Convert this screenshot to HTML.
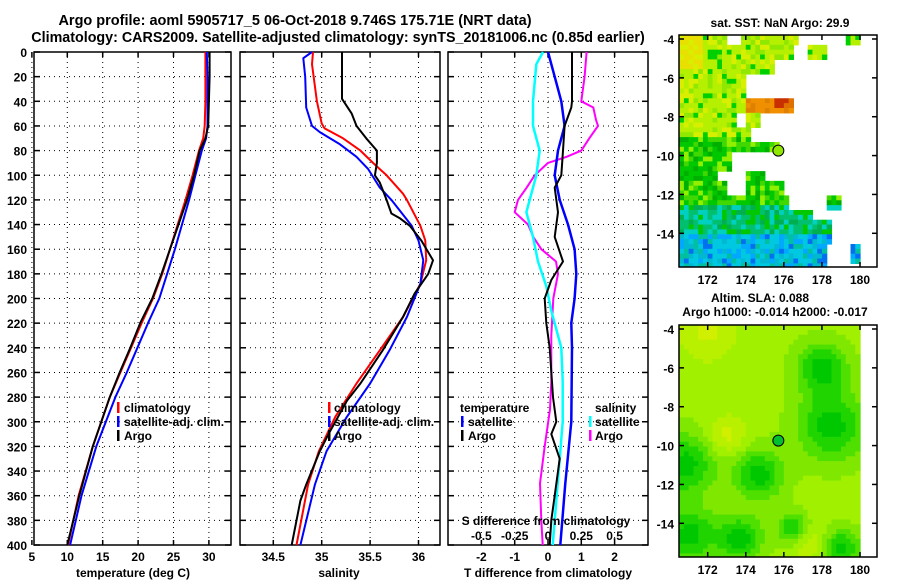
<!DOCTYPE html>
<html><head><meta charset="utf-8">
<style>
html,body{margin:0;padding:0;background:#fff;}
svg{display:block;}
text{font-family:"Liberation Sans",Arial,sans-serif;font-weight:bold;fill:#000;}
</style></head>
<body>
<svg id="fig" width="900" height="580" viewBox="0 0 900 580" xmlns="http://www.w3.org/2000/svg">
<text x="295" y="25" font-size="14.5" text-anchor="middle">Argo profile: aoml 5905717_5 06-Oct-2018 9.746S 175.71E (NRT data)</text>
<text x="338" y="42" font-size="14.3" text-anchor="middle">Climatology: CARS2009. Satellite-adjusted climatology: synTS_20181006.nc (0.85d earlier)</text>
<text x="780" y="27" font-size="12" text-anchor="middle">sat. SST: NaN Argo: 29.9</text>
<text x="760" y="302" font-size="12" text-anchor="middle">Altim. SLA: 0.088</text>
<text x="775" y="316" font-size="12" text-anchor="middle">Argo h1000: -0.014 h2000: -0.017</text>
<text x="894" y="455" font-size="12" text-anchor="middle" transform="rotate(-90 894 455)" style="font-weight:normal">©IMOS 20-Dec-2018 04:39:12</text>
<g id="layer"></g>
</svg>
<script>
// ---------- data ----------
const depthTicks = [0,20,40,60,80,100,120,140,160,180,200,220,240,260,280,300,320,340,360,380,400];
const tempTicks = [5,10,15,20,25,30];
const salTicks = [34.5,35,35.5,36];
const salTickLabels = ["34.5","35","35.5","36"];
const tdiffTicks = [-2,-1,0,1,2];
const sdiffTicks = [-0.5,-0.25,0,0.25,0.5];
const sdiffTickLabels = ["-0.5","-0.25","0","0.25","0.5"];

const tempDepth = [0,20,40,60,70,80,100,120,140,160,180,200,220,240,260,280,320,360,400];
const tempArgo = [30.1,30.1,30.0,29.9,29.5,28.7,27.9,26.9,25.7,24.5,23.3,22.0,20.3,18.9,17.4,16.0,13.6,11.7,10.0];
const tempClim = [29.5,29.5,29.5,29.4,29.2,28.6,27.7,26.7,25.6,24.5,23.4,22.1,20.5,19.0,17.5,16.0,13.6,11.6,10.1];
const tempSat  = [29.7,29.8,29.8,29.8,29.6,29.0,28.1,27.2,26.2,25.2,24.1,23.0,21.4,19.9,18.4,16.8,14.1,12.0,10.4];

const salArgoDepth = [0,38,50,60,70,80,90,100,106,120,131,135,141,153,169,180,196,215,242,269,283,310,324,351,364,400];
const salArgo = [35.21,35.21,35.31,35.36,35.46,35.57,35.57,35.55,35.60,35.67,35.72,35.81,35.91,36.03,36.15,36.10,35.96,35.84,35.63,35.40,35.26,35.07,34.98,34.84,34.78,34.69];
const salClimDepth = [0,10,40,58,62,70,80,90,100,115,120,141,153,169,188,215,242,269,296,324,351,400];
const salClim = [34.91,34.90,34.95,35.00,35.03,35.22,35.40,35.53,35.67,35.84,35.88,36.02,36.07,36.08,36.02,35.84,35.60,35.36,35.14,34.97,34.86,34.74];
const salSatDepth = [0,5,20,45,60,65,75,85,95,110,120,141,153,169,188,215,242,269,296,324,351,400];
const salSat = [34.90,34.81,34.83,34.84,34.90,34.98,35.19,35.36,35.48,35.60,35.72,35.93,36.00,36.05,36.02,35.88,35.70,35.50,35.26,35.05,34.93,34.78];

const tdArgoDepth = [0,40,45,60,80,100,110,130,150,170,185,200,220,240,280,300,310,330,360,380,400];
const tdArgo = [0.72,0.72,0.7,0.5,0.45,0.4,0.2,0.3,0.2,0.45,0.1,-0.1,-0.05,0.05,0.15,0.25,0.1,0.35,0.2,0.1,0.05];
const tdSatDepth = [0,20,40,60,80,100,120,140,160,180,200,220,240,300,350,400];
const tdSat = [0,0.2,0.4,0.5,0.3,0.2,0.35,0.6,0.8,0.85,0.8,0.7,0.72,0.7,0.52,0.37];
const sdSatDepth = [0,10,40,60,80,100,110,130,150,170,190,210,240,267,300,400];
const sdSat = [-0.0375,-0.0875,-0.1125,-0.1125,-0.0625,-0.0875,-0.1125,-0.1625,-0.1125,-0.075,-0.0125,0.025,0.1,0.11,0.11,0.035];
const sdArgoDepth = [0,20,40,45,55,60,70,80,85,90,100,110,120,130,140,150,160,170,180,200,230,267,290,320,350,380,400];
const sdArgo = [0.29,0.275,0.25,0.34,0.36,0.375,0.31,0.25,0.14,0,-0.1,-0.16,-0.225,-0.25,-0.15,-0.11,-0.05,0.06,0.075,0.04,0.025,0.025,0.015,-0.025,-0.06,-0.05,-0.04];

const mapLonTicks = [172,174,176,178,180];
const mapLatTicks = [-4,-6,-8,-10,-12,-14];
const argoLon = 175.71, argoLat = -9.746;

// ---------- helpers ----------
const NS="http://www.w3.org/2000/svg";
const layer=document.getElementById('layer');
function mk(tag,attrs,parent){const e=document.createElementNS(NS,tag);for(const k in attrs)e.setAttribute(k,attrs[k]);(parent||layer).appendChild(e);return e;}
const yD = d => 52 + d*1.2325;
const xT = t => 67.3 + (t-10)*7.08;
const xS = s => 273.3 + (s-34.5)*96.8;
const xTd = t => 548 + t*33.3;
const xSd = s => 548 + s*4*33.3;

function panel(x0,x1,name,vx,xticks){
  const g=mk('g',{});
  
  
  xticks.forEach(v=>{const x=vx(v);
    mk('line',{x1:x,x2:x,y1:52,y2:545,stroke:'#000','stroke-width':1,'stroke-dasharray':'1,4'},g);
    mk('line',{x1:x,x2:x,y1:545,y2:540,stroke:'#000','stroke-width':1.5},g);
    mk('line',{x1:x,x2:x,y1:52,y2:57,stroke:'#000','stroke-width':1.5},g);});
  depthTicks.forEach(d=>{const y=yD(d);
    if(d>0&&d<400) mk('line',{x1:x0,x2:x1,y1:y,y2:y,stroke:'#000','stroke-width':1,'stroke-dasharray':'1,4'},g);
    mk('line',{x1:x0,x2:x0+6,y1:y,y2:y,stroke:'#000','stroke-width':1.5},g);
    mk('line',{x1:x1-6,x2:x1,y1:y,y2:y,stroke:'#000','stroke-width':1.5},g);});
  mk('rect',{x:x0,y:52,width:x1-x0,height:493,fill:'none',stroke:'#000','stroke-width':1.5},g);
  return g;
}
function series(depths,vals,fx,color,w,name){
  const pts=depths.map((d,i)=>fx(vals[i]).toFixed(1)+','+yD(d).toFixed(1)).join(' ');
  const p=mk('polyline',{points:pts,fill:'none',stroke:color,'stroke-width':w,'stroke-linejoin':'round'});
  
  
}
function txt(x,y,s,anchor,size,name){
  const t=mk('text',{x:x,y:y,'font-size':size||12,'text-anchor':anchor||'middle'});
  t.textContent=s;
  
  
  return t;
}
function legendBar(x,y,color,name){
  const r=mk('rect',{x:x,y:y-10,width:2.5,height:11,fill:color});
  
  
}

// ---------- panel 1 temperature ----------
panel(34,231,'temperature-panel',xT,tempTicks);
depthTicks.forEach(d=>{txt(27,yD(d)+5,String(d),'end',12,'depth-tick-label');});
tempTicks.forEach(t=>txt(xT(t),561,String(t),'middle',12,'temperature-tick-label'));
txt(133,577,'temperature (deg C)','middle',12,'temperature-axis-title');
series(tempDepth,tempClim,xT,'#ff0000',2,'temperature-climatology-line');
series(tempDepth,tempSat,xT,'#0000ff',2,'temperature-satellite-line');
series(tempDepth,tempArgo,xT,'#000000',2,'temperature-argo-line');
legendBar(117,412,'#ff0000','legend-climatology-marker');txt(124,412,'climatology','start',12,'legend-climatology');
legendBar(117,426,'#0000ff','legend-satellite-marker');txt(124,426,'satellite-adj. clim.','start',12,'legend-satellite-adj');
legendBar(117,440,'#000','legend-argo-marker');txt(124,440,'Argo','start',12,'legend-argo');

// ---------- panel 2 salinity ----------
panel(240,440,'salinity-panel',xS,salTicks);
salTicks.forEach((s,i)=>txt(xS(s),561,salTickLabels[i],'middle',12,'salinity-tick-label'));
txt(339,577,'salinity','middle',12,'salinity-axis-title');
series(salClimDepth,salClim,xS,'#ff0000',2,'salinity-climatology-line');
series(salSatDepth,salSat,xS,'#0000ff',2,'salinity-satellite-line');
series(salArgoDepth,salArgo,xS,'#000000',2,'salinity-argo-line');
legendBar(328,412,'#ff0000','legend-climatology-marker');txt(334,412,'climatology','start',12,'legend-climatology');
legendBar(328,426,'#0000ff','legend-satellite-marker');txt(334,426,'satellite-adj. clim.','start',12,'legend-satellite-adj');
legendBar(328,440,'#000','legend-argo-marker');txt(334,440,'Argo','start',12,'legend-argo');

// ---------- panel 3 differences ----------
panel(448,648,'difference-panel',xTd,tdiffTicks);
tdiffTicks.forEach(t=>txt(xTd(t),561,String(t),'middle',12,'tdiff-tick-label'));
txt(548,577,'T difference from climatology','middle',12,'tdiff-axis-title');
series(sdArgoDepth,sdArgo,xSd,'#ff00ff',2,'sdiff-argo-line');
series(sdSatDepth,sdSat,xSd,'#00ffff',2.5,'sdiff-satellite-line');
series(tdSatDepth,tdSat,xTd,'#0000ff',2.5,'tdiff-satellite-line');
series(tdArgoDepth,tdArgo,xTd,'#000000',2,'tdiff-argo-line');
txt(460,412,'temperature','start',12,'legend-temperature-header');
legendBar(461,426,'#0000ff','legend-t-satellite-marker');txt(468,426,'satellite','start',12,'legend-t-satellite');
legendBar(461,440,'#000','legend-t-argo-marker');txt(468,440,'Argo','start',12,'legend-t-argo');
txt(595,412,'salinity','start',12,'legend-salinity-header');
legendBar(589,426,'#00ffff','legend-s-satellite-marker');txt(595,426,'satellite','start',12,'legend-s-satellite');
legendBar(589,440,'#ff00ff','legend-s-argo-marker');txt(595,440,'Argo','start',12,'legend-s-argo');
txt(546,525,'S difference from climatology','middle',12,'sdiff-axis-title');
sdiffTicks.forEach((s,i)=>txt(xSd(s),540,sdiffTickLabels[i],'middle',12,'sdiff-tick-label'));

// ---------- maps ----------
function hash(i,j){let h=(i*374761393+j*668265263)|0;h=(h^(h>>>13))*1274126177|0;return ((h^(h>>>16))>>>0)/4294967296;}
function drawMap(top,name,colorFn,dotColor){
  const bot=top+232;
  const lonX=l=>707.7+(l-172)*19.04;
  const latY=a=>top+4+(-4-a)*19.43;
  const g=mk('g',{});
  
  
  const step=0.25;
  for(let lat=-3.8;lat>-15.75;lat-=step){
    for(let lon=170.5;lon<180.05;lon+=step){
      const c=colorFn(lon+step/2,lat-step/2,Math.round(lon*4),Math.round(lat*4));
      if(!c) continue;
      const x=lonX(lon),y=latY(lat);
      mk('rect',{x:x.toFixed(2),y:y.toFixed(2),width:(step*19.04+0.6).toFixed(2),height:(step*19.43+0.6).toFixed(2),fill:c},g);
    }
  }
  mk('rect',{x:877,y:top-5,width:23,height:245,fill:'#fff'},g);
  mk('rect',{x:650,y:bot,width:250,height:4,fill:'#fff'},g);
  mk('rect',{x:679,y:top,width:198,height:232,fill:'none',stroke:'#000','stroke-width':1.5},g);
  mapLonTicks.forEach(l=>{const x=lonX(l);
    mk('line',{x1:x,x2:x,y1:top,y2:top+5,stroke:'#000','stroke-width':1.5},g);
    mk('line',{x1:x,x2:x,y1:bot,y2:bot-5,stroke:'#000','stroke-width':1.5},g);
    txt(x,bot+17,String(l),'middle',12,'map-lon-tick-label');});
  mapLatTicks.forEach(a=>{const y=latY(a);
    mk('line',{x1:679,x2:684,y1:y,y2:y,stroke:'#000','stroke-width':1.5},g);
    mk('line',{x1:877,x2:872,y1:y,y2:y,stroke:'#000','stroke-width':1.5},g);
    txt(674,y+5,String(a),'end',12,'map-lat-tick-label');});
  const c=mk('circle',{cx:lonX(argoLon),cy:latY(argoLat),r:5.5,fill:dotColor,stroke:'#000','stroke-width':1},g);
  
  
}
function sstPresent(lon,lat){
  if(lat>-4.3) return lon<173||(lon>173.8&&lon<176.8)||(lon>179.3&&lon<179.9);
  if(lat>-5) return lon<176.5||(lon>177.3&&lon<178.3);
  if(lat>-5.7) return lon<175.5;
  if(lat>-7) return lon<174.1;
  if(lat>-7.8) return lon<176.5;
  if(lat>-8.5) return lon<173.5||(lon>174&&lon<174.7);
  if(lat>-9.2) return lon<174.3;
  if(lat>-9.9) return lon<175.8;
  if(lat>-10.8) return lon<173.2;
  if(lat>-11.3) return lon<172.5||(lon>174&&lon<175);
  if(lat>-12) return lon<173||(lon>174&&lon<176);
  if(lat>-12.7) return lon<176.3||(lon>178.2&&lon<178.9);
  if(lat>-13.2) return lon<177.5;
  if(lat>-14.6) return lon<178.5;
  return lon<178.2||(lon>179.5&&lon<180.1&&lat>-15.5);
}
function sstColor(lon,lat,i,j){
  if(!sstPresent(lon,lat)) return null;
  const r=hash(i,j);
  if(lat<-7&&lat>-7.8&&lon>174&&lon<176.5) return lon>175.5&&lat>-7.5? (r<0.4?'#c83000':'#e07000'):(r<0.5?'#f09000':'#e08000');
  if(lat>-5.5&&lon<171.8) return r<0.7?'#e8e000':'#d8f000';
  if(lat>-9) return r<0.15?'#00d000':(r<0.35?'#90e800':(r<0.5?'#d8f000':'#b4f000'));
  if(lat>-12.5) return r<0.4?'#00c800':(r<0.6?'#00b000':(r<0.8?'#40d800':'#90f000'));
  if(lat>-14) return r<0.35?'#00c070':(r<0.6?'#00d0c0':(r<0.8?'#00b050':'#00c800'));
  return r<0.3?'#00c8e0':(r<0.5?'#00a8ff':(r<0.6?'#0070f0':(r<0.8?'#00c0a0':'#00b8d0')));
}
const slaGreen=[[178.5,-9,1.8],[178,-6,1.3],[170.8,-11,1.6],[174.7,-11.5,1.3],[173.7,-14.8,1.2],[171,-14.6,1.4],[179,-15.3,1],[176.5,-14.3,0.8]];
function slaColor(lon,lat){
  let v=0.35;
  slaGreen.forEach(b=>{const d=Math.hypot(lon-b[0],lat-b[1])/b[2];v+=0.65*Math.exp(-d*d);});
  const y1=Math.hypot(lon-173,lat+9.5);v-=0.35*Math.exp(-y1*y1);
  const y2=Math.hypot(lon-177.3,lat+15);v-=0.3*Math.exp(-y2*y2);
  const y3=Math.hypot(lon-172,lat+4.2);v-=0.3*Math.exp(-y3*y3/2);
  const cols=['#d0f000','#b8f000','#a0f000','#80e800','#50e000','#20d400','#00c800'];
  const k=Math.max(0,Math.min(cols.length-1,Math.round(v*6)));
  return cols[k];
}
drawMap(35,'sst-map',sstColor,'#90e800');
drawMap(325,'sla-map',(lon,lat)=>lon<180.05?slaColor(lon,lat):null,'#00c030');
</script>
</body></html>
